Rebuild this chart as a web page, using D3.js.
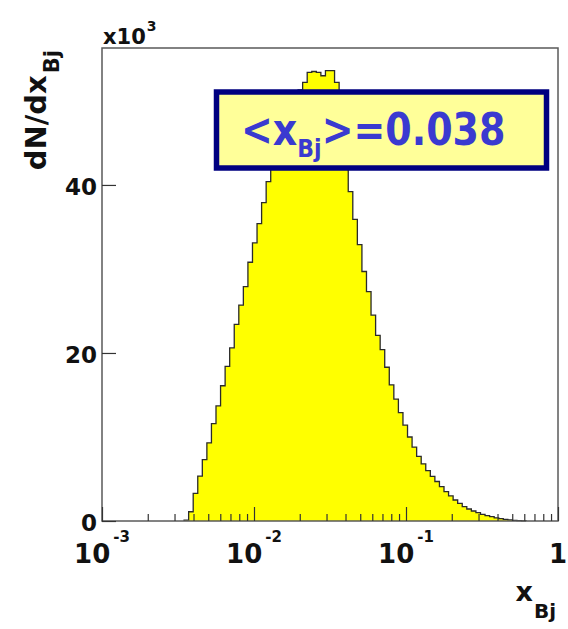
<!doctype html>
<html lang="en">
<head>
<meta charset="UTF-8" />
<script src="https://d3js.org/d3.v7.min.js"></script>
<title>x_Bj distribution</title>
<style>
  body { margin: 0; background: #fff; }
</style>
</head>
<body>
<div id="chart"></div>
<script>
// Histogram: 100 log-spaced bins between 1e-3 and 1, counts in units of 10^3
const nBins = 100
const xRange = [1e-3, 1]
const firstBin = 18
const counts = [
  0.1, 1.1, 3.3, 5.35, 7.3, 9.3, 11.6, 13.7, 16.1, 18.4,
  20.6, 23.4, 25.7, 27.9, 30.8, 33.1, 35.4, 37.9, 40.4, 42.8,
  45.0, 47.0, 48.8, 50.2, 51.0, 51.3, 52.2, 53.4, 53.5, 53.4,
  53.0, 53.6, 53.6, 52.2, 49.5, 44.5, 39.2, 35.9, 32.9, 29.7,
  27.3, 24.5, 22.1, 20.4, 18.3, 16.2, 14.5, 12.9, 11.4, 10.0,
  8.8, 7.7, 6.8, 6.0, 5.3, 4.7, 4.1, 3.5, 3.0, 2.5,
  2.1, 1.7, 1.43, 1.19, 0.99, 0.8, 0.63, 0.51, 0.38, 0.28,
  0.2, 0.13, 0.08, 0.04, 0.02
]
const yTicks = [0, 20, 40]
const xMajor = [1e-3, 1e-2, 1e-1, 1]
const xMajorLabels = [["10", "-3"], ["10", "-2"], ["10", "-1"], ["1", ""]]
const yMax = 56.3
const meanLabel = "0.038"

const W = 568, H = 629
const frame = { left: 102, right: 558, top: 48, bottom: 521 }
const rootFont = "'DejaVu Sans', sans-serif"

const svg = d3.select("#chart").append("svg")
  .attr("width", W).attr("height", H)

const x = d3.scaleLog().domain(xRange).range([frame.left, frame.right])
const y = d3.scaleLinear().domain([0, yMax]).range([frame.bottom, frame.top])

// bin edges (log binning)
const lx0 = Math.log10(xRange[0]), lx1 = Math.log10(xRange[1])
const edge = i => Math.pow(10, lx0 + (lx1 - lx0) * i / nBins)

// step points for the histogram
const pts = [[edge(firstBin), 0]]
counts.forEach((c, k) => pts.push([edge(firstBin + k), c]))
pts.push([edge(firstBin + counts.length), 0])

const area = d3.area()
  .x(d => x(d[0])).y0(y(0)).y1(d => y(d[1]))
  .curve(d3.curveStepAfter)
const line = d3.line()
  .x(d => x(d[0])).y(d => y(d[1]))
  .curve(d3.curveStepAfter)

svg.append("path").datum(pts)
  .attr("d", area)
  .attr("fill", "#ffff00")

svg.append("path").datum(pts)
  .attr("d", line)
  .attr("fill", "none")
  .attr("stroke", "#2a2a2a")
  .attr("stroke-width", 1.3)

// frame
svg.append("rect")
  .attr("x", frame.left).attr("y", frame.top)
  .attr("width", frame.right - frame.left)
  .attr("height", frame.bottom - frame.top)
  .attr("fill", "none")
  .attr("stroke", "#5a5a5a")
  .attr("stroke-width", 1.5)

// x axis ticks (inside the frame)
const xMinor = []
for (let e = -3; e < 0; e++) {
  for (let k = 2; k <= 9; k++) xMinor.push(k * Math.pow(10, e))
}
const xMinorAxis = svg.append("g")
  .attr("transform", `translate(0,${frame.bottom})`)
  .call(d3.axisBottom(x).tickValues(xMinor).tickSize(-7).tickFormat(""))
const xMajorAxis = svg.append("g")
  .attr("transform", `translate(0,${frame.bottom})`)
  .call(d3.axisBottom(x).tickValues(xMajor).tickSize(-14).tickFormat(""))
;[xMinorAxis, xMajorAxis].forEach(g => {
  g.select(".domain").remove()
  g.selectAll(".tick line").attr("stroke", "#333").attr("stroke-width", 1.2)
})

// x tick labels: 10 with exponent
const xLab = svg.append("g")
  .attr("font-family", rootFont)
  .attr("font-weight", "bold")
  .attr("fill", "#111")
xMajor.forEach((v, i) => {
  const [base, exp] = xMajorLabels[i]
  const t = xLab.append("text")
    .attr("x", x(v)).attr("y", 563)
    .attr("text-anchor", "middle")
  t.append("tspan").attr("font-size", 26).text(base)
  if (exp) {
    t.append("tspan").attr("font-size", 15).attr("dx", 3).attr("dy", -21).text(exp)
  }
})

// y axis
const yAxis = svg.append("g")
  .attr("transform", `translate(${frame.left},0)`)
  .call(d3.axisLeft(y).tickValues(yTicks).tickSize(-14).tickPadding(5))
yAxis.select(".domain").remove()
yAxis.selectAll(".tick line").attr("stroke", "#333").attr("stroke-width", 1.2)
yAxis.selectAll(".tick text")
  .attr("font-family", rootFont)
  .attr("font-weight", "bold")
  .attr("font-size", 23)
  .attr("fill", "#111")
  .attr("dy", "0.42em")

// x10^3 multiplier
const mult = svg.append("text")
  .attr("x", 103).attr("y", 44)
  .attr("font-family", rootFont)
  .attr("font-weight", "bold")
  .attr("fill", "#111")
mult.append("tspan").attr("font-size", 21).text("x10")
mult.append("tspan").attr("font-size", 14).attr("dx", 1).attr("dy", -13).text("3")

// axis titles
const xt = svg.append("text")
  .attr("x", 556).attr("y", 601)
  .attr("text-anchor", "end")
  .attr("font-family", rootFont)
  .attr("font-weight", "bold")
  .attr("fill", "#111")
xt.append("tspan").attr("font-size", 27).text("x")
xt.append("tspan").attr("font-size", 20).attr("dx", 1).attr("dy", 17).text("Bj")

const yt = svg.append("text")
  .attr("transform", "translate(46,50) rotate(-90)")
  .attr("text-anchor", "end")
  .attr("font-family", rootFont)
  .attr("font-weight", "bold")
  .attr("fill", "#111")
yt.append("tspan").attr("font-size", 29).text("dN/dx")
yt.append("tspan").attr("font-size", 21).attr("dx", 2).attr("dy", 13).text("Bj")

// mean value box
svg.append("rect")
  .attr("x", 216.5).attr("y", 92)
  .attr("width", 330).attr("height", 76)
  .attr("fill", "#ffff99")
  .attr("stroke", "#000080")
  .attr("stroke-width", 5.5)

const mt = svg.append("text")
  .attr("transform", "translate(241,145) scale(1,1.15)")
  .attr("font-family", "'Comic Sans MS', 'DejaVu Sans', sans-serif")
  .attr("font-weight", "bold")
  .attr("fill", "#3a3ad0")
mt.append("tspan").attr("font-size", 38).text("<x")
mt.append("tspan").attr("font-size", 22).attr("dy", 10).text("Bj")
mt.append("tspan").attr("font-size", 38).attr("dy", -10).text(">=" + meanLabel)
</script>
</body>
</html>
